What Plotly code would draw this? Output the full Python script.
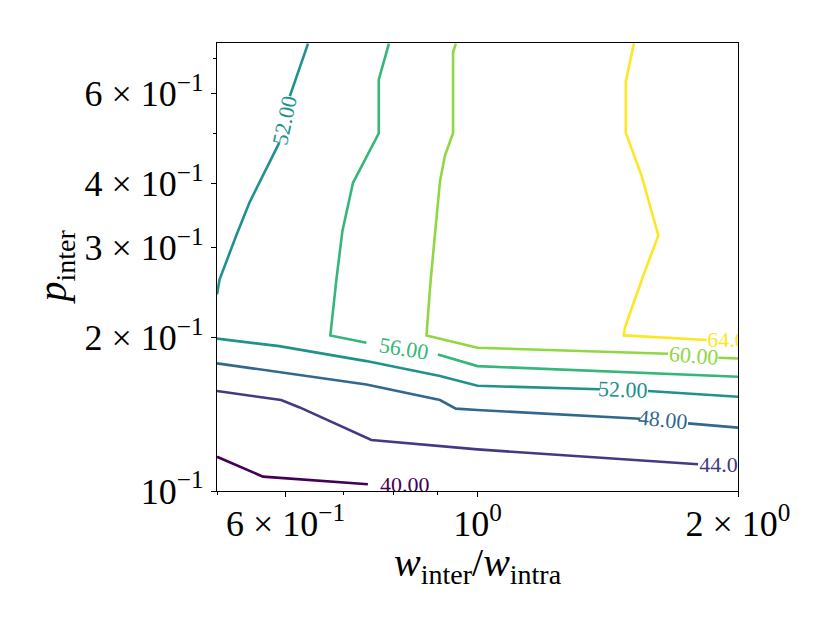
import math
import plotly.graph_objects as go

# contour levels and their colours (viridis, 7 steps)
levels = [40, 44, 48, 52, 56, 60, 64]
colors = ["#440154", "#443983", "#31688e", "#21918c", "#35b779", "#90d743", "#fde725"]

# contour paths (None = gap left for an inline label)
x40 = [0.5, 0.565, 0.747]
y40 = [0.1167, 0.1067, 0.1031]

x44 = [0.5, 0.593, 0.623, 0.754, 1.0, 1.798]
y44 = [0.1569, 0.1506, 0.1457, 0.1258, 0.1206, 0.1128]

x48 = [0.5, 0.595, 0.744, 0.905, 0.944, 1.0, 1.541, None, 1.751, 2.0]
y48 = [0.1777, 0.1706, 0.1616, 0.1506, 0.1449, 0.1440, 0.1385, None, 0.1356, 0.1330]

x52 = [0.5, 0.590, 0.744, 0.905, 1.0, 1.385, None, 1.574, 2.0]
y52 = [0.1986, 0.1920, 0.1795, 0.1678, 0.1606, 0.1581, None, 0.1569, 0.1529]

x52b = [0.5, 0.5035, 0.526, 0.545, 0.590, None, 0.607, 0.637]
y52b = [0.2424, 0.2594, 0.3152, 0.3663, 0.4797, None, 0.5918, 0.75]

x56 = [0.790, 0.769, 0.769, 0.718, 0.698, 0.687, 0.676, 0.744, None, 0.900, 1.0, 2.0]
y56 = [0.75, 0.6378, 0.5008, 0.4007, 0.3222, 0.2594, 0.2015, 0.1950, None, 0.1849, 0.1755, 0.1673]

x60 = [0.944, 0.937, 0.937, 0.917, 0.905, 0.883, 0.873, 1.0, 1.660, None, 1.898, 2.0]
y60 = [0.75, 0.7213, 0.5008, 0.4530, 0.4036, 0.2594, 0.2015, 0.1906, 0.1855, None, 0.1822, 0.1816]

x64 = [1.516, 1.484, 1.484, 1.548, 1.618, 1.554, 1.480, 1.476, 1.840]
y64 = [0.75, 0.6329, 0.5017, 0.4127, 0.3162, 0.2633, 0.2086, 0.2015, 0.1974]

paths = [(x40, y40, 0), (x44, y44, 1), (x48, y48, 2), (x52, y52, 3), (x52b, y52b, 3),
         (x56, y56, 4), (x60, y60, 5), (x64, y64, 6)]

# inline labels: (level index, x, y, angle)
labels = [
    (3, 0.5985, 0.5303, -78),
    (4, 0.822, 0.1900, 9),
    (5, 1.779, 0.1841, 4.5),
    (3, 1.474, 0.1576, 2),
    (2, 1.640, 0.1381, 5.5),
]
# labels cut by the axes frame
clipped = [(0, 0.824, 0.1021), (1, 1.927, 0.1119), (6, 1.968, 0.1962)]

FONT = "Liberation Serif, Times New Roman, serif"
LBL = 22

fig = go.Figure()
for xs, ys, k in paths:
    fig.add_trace(go.Scatter(x=xs, y=ys, mode="lines", connectgaps=False,
                             line=dict(color=colors[k], width=2.6), showlegend=False,
                             hoverinfo="skip"))

for k, lx, ly in clipped:
    fig.add_trace(go.Scatter(x=[lx], y=[ly], mode="text", text=["%.2f" % levels[k]],
                             textfont=dict(family=FONT, size=LBL, color=colors[k]),
                             cliponaxis=True, showlegend=False, hoverinfo="skip"))

# annotations on log axes are placed in log10 units
for k, lx, ly, ang in labels:
    fig.add_annotation(x=math.log10(lx), y=math.log10(ly), xref="x", yref="y",
                       text="%.2f" % levels[k], showarrow=False, textangle=ang,
                       font=dict(family=FONT, size=LBL, color=colors[k]))

# axis titles
fig.add_annotation(x=0.5, y=-0.166, xref="paper", yref="paper", showarrow=False,
                   text="<i>w</i><sub>inter</sub>/<i>w</i><sub>intra</sub>",
                   xanchor="center", yanchor="middle", font=dict(family=FONT, size=40))
fig.add_annotation(x=-0.31, y=0.5, xref="paper", yref="paper", showarrow=False,
                   text="<i>p</i><sub>inter</sub>", textangle=-90,
                   xanchor="center", yanchor="middle", font=dict(family=FONT, size=40))

# page body has an 8px margin, so the figure is shrunk by that much
fig.update_layout(
    width=822, height=615,
    margin=dict(l=209, r=92, t=35, b=132),
    plot_bgcolor="white", paper_bgcolor="white",
    font=dict(family=FONT, size=36, color="black"),
)

fig.update_xaxes(
    type="log", range=[-0.30103, 0.30103],
    tickvals=[0.6, 1, 2],
    ticktext=["6 × 10<sup>−1</sup>", "10<sup>0</sup>", "2 × 10<sup>0</sup>"],
    ticks="outside", ticklen=5, tickwidth=1.2, tickcolor="black",
    ticklabelstandoff=-4,
    minor=dict(tickvals=[0.5, 0.7, 0.8, 0.9], ticks="outside", ticklen=3, tickcolor="black"),
    showline=True, linecolor="black", linewidth=1.3, mirror=True,
    showgrid=False, zeroline=False,
)
fig.update_yaxes(
    type="log", range=[-1, -0.1238],
    tickvals=[0.1, 0.2, 0.3, 0.4, 0.6],
    ticktext=["10<sup>−1</sup>", "2 × 10<sup>−1</sup>", "3 × 10<sup>−1</sup>",
              "4 × 10<sup>−1</sup>", "6 × 10<sup>−1</sup>"],
    ticks="outside", ticklen=5, tickwidth=1.2, tickcolor="black",
    minor=dict(tickvals=[0.5, 0.7], ticks="outside", ticklen=3, tickcolor="black"),
    showline=True, linecolor="black", linewidth=1.3, mirror=True,
    showgrid=False, zeroline=False,
)

fig.write_html("out.html")
